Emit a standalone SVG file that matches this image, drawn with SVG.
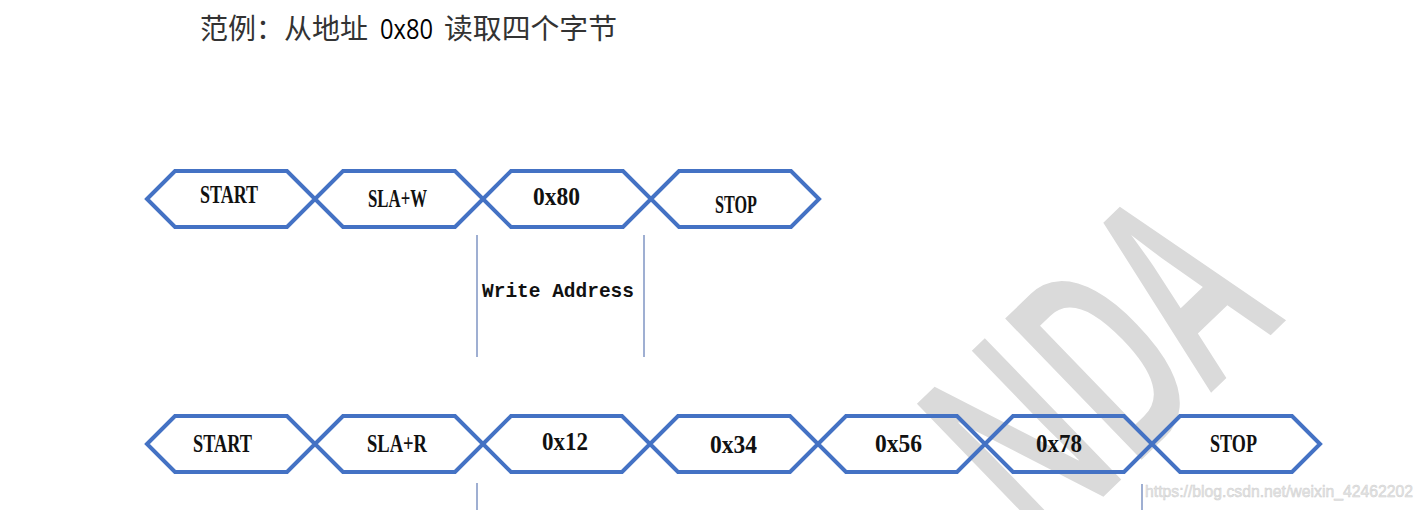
<svg xmlns="http://www.w3.org/2000/svg" width="1424" height="510" viewBox="0 0 1424 510">
<style>
.hex{fill:none;stroke:#4472C4;stroke-width:4;stroke-linejoin:miter}
.lbl{font-family:"Liberation Serif","Times New Roman",serif;font-weight:bold;font-size:25px;fill:#111}
.cn{font-family:"Noto Sans CJK SC","Noto Sans",sans-serif;font-size:28px;fill:#333}
.mark{stroke:#7f95c3;stroke-width:1.5}
.wm{font-family:"Noto Sans","DejaVu Sans",sans-serif;font-weight:600;font-size:275px;fill:#dadada}
.url{font-family:"Liberation Sans",Arial,sans-serif;font-size:16px;fill:#e6e6e6;stroke:#cfcfcf;stroke-width:0.5}
</style>
<rect width="1424" height="510" fill="#fff"/>
<g id="watermark">
<text class="wm" transform="translate(1043,555) rotate(-44)" textLength="338" lengthAdjust="spacingAndGlyphs">NDA</text>
</g>
<g id="title">
<text y="39"><tspan class="cn" x="200" textLength="168" lengthAdjust="spacingAndGlyphs">范例：从地址</tspan><tspan x="380" font-family="'Open Sans','Liberation Sans',sans-serif" font-size="27px" fill="#000" textLength="53" lengthAdjust="spacingAndGlyphs">0x80</tspan><tspan class="cn" x="444" textLength="173" lengthAdjust="spacingAndGlyphs">读取四个字节</tspan></text>
</g>
<g id="row1">
<g id="n-start-1"><polygon class="hex" points="147,199 175,171 287,171 315,199 287,227 175,227"/><text class="lbl" x="200" y="203" textLength="58" lengthAdjust="spacingAndGlyphs">START</text></g>
<g id="n-slaw"><polygon class="hex" points="315,199 343,171 455,171 483,199 455,227 343,227"/><text class="lbl" x="368" y="207" textLength="59" lengthAdjust="spacingAndGlyphs">SLA+W</text></g>
<g id="n-0x80"><polygon class="hex" points="483,199 511,171 623,171 651,199 623,227 511,227"/><text class="lbl" x="533" y="205" textLength="47" lengthAdjust="spacingAndGlyphs" font-size="24px">0x80</text></g>
<g id="n-stop-1"><polygon class="hex" points="651,199 679,171 791,171 819,199 791,227 679,227"/><text class="lbl" x="715" y="213" textLength="42" lengthAdjust="spacingAndGlyphs">STOP</text></g>
</g>
<g id="row2">
<g id="n-start-2"><polygon class="hex" points="147,444 175,416 287,416 315,444 287,472 175,472"/><text class="lbl" x="193" y="452" textLength="59" lengthAdjust="spacingAndGlyphs">START</text></g>
<g id="n-slar"><polygon class="hex" points="315,444 343,416 455,416 483,444 455,472 343,472"/><text class="lbl" x="367" y="452" textLength="60" lengthAdjust="spacingAndGlyphs">SLA+R</text></g>
<g id="n-0x12"><polygon class="hex" points="483,444 511,416 622,416 650,444 622,472 511,472"/><text class="lbl" x="542" y="450" textLength="46" lengthAdjust="spacingAndGlyphs" font-size="24px">0x12</text></g>
<g id="n-0x34"><polygon class="hex" points="650,444 678,416 790,416 818,444 790,472 678,472"/><text class="lbl" x="710" y="453" textLength="47" lengthAdjust="spacingAndGlyphs" font-size="24px">0x34</text></g>
<g id="n-0x56"><polygon class="hex" points="818,444 846,416 957,416 985,444 957,472 846,472"/><text class="lbl" x="875" y="452" textLength="47" lengthAdjust="spacingAndGlyphs" font-size="24px">0x56</text></g>
<g id="n-0x78"><polygon class="hex" points="985,444 1013,416 1124,416 1152,444 1124,472 1013,472"/><text class="lbl" x="1036" y="452" textLength="46" lengthAdjust="spacingAndGlyphs" font-size="24px">0x78</text></g>
<g id="n-stop-2"><polygon class="hex" points="1152,444 1180,416 1292,416 1320,444 1292,472 1180,472"/><text class="lbl" x="1210" y="452" textLength="47" lengthAdjust="spacingAndGlyphs">STOP</text></g>
</g>
<g id="connectors">
<line class="mark" x1="477" y1="235" x2="477" y2="357"/>
<line class="mark" x1="644" y1="235" x2="644" y2="357"/>
<line class="mark" x1="477" y1="483" x2="477" y2="510"/>
<line class="mark" x1="1142" y1="484" x2="1142" y2="510"/>
</g>
<g id="write-address">
<text x="482" y="297" font-family="'Liberation Mono','Courier New',monospace" font-weight="bold" font-size="21px" fill="#111" textLength="152" lengthAdjust="spacingAndGlyphs">Write Address</text>
</g>
<g id="url">
<text class="url" x="1145" y="497" textLength="268" lengthAdjust="spacingAndGlyphs">https://blog.csdn.net/weixin_42462202</text>
</g>
</svg>
